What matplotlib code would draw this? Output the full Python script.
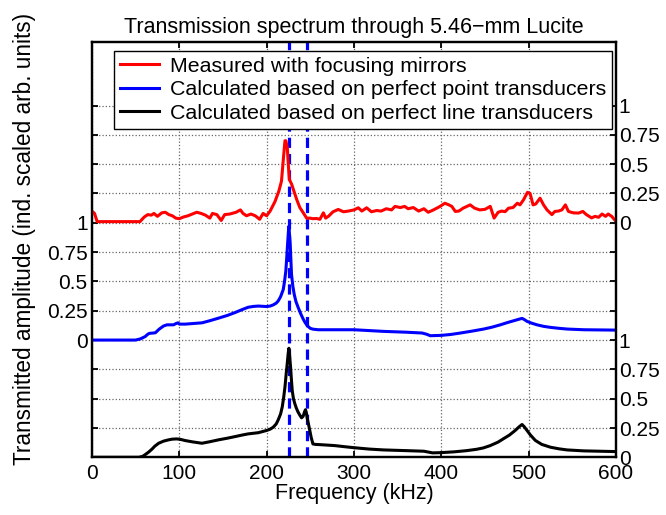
import matplotlib
matplotlib.use('Agg')
import matplotlib.pyplot as plt
import numpy as np

plt.rcParams['font.family'] = ['Liberation Sans', 'DejaVu Sans']

# measured (red), offset 2
red_f = [0, 3, 6, 55, 60, 64, 68, 71, 75, 80, 84, 88, 92, 96, 100, 105, 110, 115, 120,
         125, 130, 135, 138, 143, 148, 152, 158, 165, 170, 173, 177, 182, 187, 192, 196,
         200, 204, 209.5, 214, 217, 219, 221, 222, 223.7, 224.8, 226, 228.6, 231.7, 234.4,
         238, 242, 245.8, 249.6, 253, 257, 261, 265, 267.6, 271, 276, 282, 288, 293.5, 300,
         305, 309, 314.5, 320, 326, 331, 337, 343, 347, 353, 358, 362, 368, 374, 380, 385,
         391, 398.6, 404, 408, 412, 416, 420, 425, 433, 438, 444, 450, 456, 460.4, 465, 469,
         473, 477, 482, 487, 490, 494, 498.6, 501.6, 505, 508, 513, 517, 521, 526.5, 530,
         534, 538, 542, 545.5, 551, 557, 562, 566, 572, 576, 580, 584, 588, 591, 595, 599]
red_v = [0.10, 0.08, 0.01, 0.01, 0.05, 0.07, 0.065, 0.08, 0.055, 0.085, 0.09, 0.07, 0.06,
         0.04, 0.035, 0.05, 0.06, 0.075, 0.09, 0.08, 0.065, 0.04, 0.08, 0.07, 0.02, 0.07,
         0.075, 0.09, 0.11, 0.08, 0.06, 0.075, 0.06, 0.03, 0.08, 0.06,
         0.10, 0.18, 0.27, 0.355, 0.53, 0.70, 0.70, 0.64, 0.50, 0.37, 0.33, 0.26, 0.20,
         0.13, 0.085, 0.04, 0.04, 0.035, 0.037, 0.03, 0.085, 0.04, 0.057, 0.094, 0.114,
         0.094, 0.10, 0.11, 0.128, 0.10, 0.128, 0.094, 0.105, 0.10, 0.12, 0.11, 0.14,
         0.13, 0.14, 0.12, 0.13, 0.10, 0.12, 0.09, 0.11, 0.14, 0.167, 0.155, 0.14, 0.097,
         0.10, 0.125, 0.153, 0.125, 0.11, 0.115, 0.14, 0.04, 0.09, 0.10, 0.095, 0.125,
         0.13, 0.167, 0.153, 0.195, 0.26, 0.25, 0.153, 0.16, 0.21, 0.153, 0.11, 0.07,
         0.097, 0.10, 0.11, 0.153, 0.097, 0.085, 0.083, 0.097, 0.07, 0.042, 0.055, 0.047,
         0.075, 0.055, 0.075, 0.055, 0.02]

# point transducers (blue), offset 1
blue_f = [0, 50, 55.5, 61, 64, 65.8, 70, 72.6, 77, 82, 86, 93.5, 96, 98.5, 100, 107, 126,
          135, 145, 155, 164, 172, 179, 185, 190.5, 200, 204, 207.6, 211, 213.3, 216, 219,
          220.5, 222, 223, 224, 225, 225.5, 226.2, 227, 227.8, 228.5, 230, 231.6, 233.5,
          236, 239, 241.8, 244, 246.8, 250, 253, 259, 300, 334, 360, 378, 383, 387.4, 400,
          411, 421.8, 435, 448.5, 458, 467.5, 476, 483, 489, 492.4, 495, 498, 503, 509.5,
          517, 525, 535, 544, 563, 599]
blue_v = [0, 0, 0.01, 0.03, 0.05, 0.057, 0.06, 0.062, 0.093, 0.12, 0.13, 0.13, 0.14, 0.147,
          0.136, 0.136, 0.147, 0.165, 0.187, 0.21, 0.235, 0.26, 0.28, 0.287, 0.29, 0.286,
          0.29, 0.30, 0.315, 0.334, 0.37, 0.43, 0.50, 0.59, 0.70, 0.82, 0.93, 0.97, 0.90,
          0.82, 0.68, 0.56, 0.46, 0.39, 0.33, 0.28, 0.225, 0.18, 0.15, 0.12, 0.10, 0.093,
          0.088, 0.088, 0.074, 0.067, 0.06, 0.05, 0.037, 0.04, 0.048, 0.06, 0.076, 0.094,
          0.11, 0.13, 0.15, 0.165, 0.178, 0.185, 0.175, 0.16, 0.145, 0.13, 0.117, 0.108,
          0.10, 0.094, 0.088, 0.085]

# line transducers (black), offset 0
black_f = [0, 53.6, 58, 61, 65, 68.8, 72, 76.4, 82, 87.8, 92, 97.3, 102, 106.8, 115, 125.9,
           135, 144.9, 155, 164, 172, 179, 190.5, 200, 204, 207.6, 211, 213.3, 216, 217.9,
           219.5, 221, 222.5, 223.6, 224.6, 225.5, 226.4, 227.4, 228.3, 229.3, 230.7, 232.3,
           234, 236, 238, 240, 241.8, 243.5, 244.5, 245.5, 246.4, 248, 249.4, 251, 253, 256,
           259, 270, 278, 290, 300, 318, 334, 360, 380, 385, 390, 400, 415, 429, 440, 448,
           456, 465, 471, 478, 484.7, 489, 492.4, 495, 498, 502, 507.6, 515, 525, 535, 544,
           563, 599]
black_v = [0, 0, 0.008, 0.023, 0.045, 0.07, 0.095, 0.12, 0.138, 0.149, 0.155, 0.157, 0.152,
           0.143, 0.132, 0.12, 0.133, 0.149, 0.163, 0.177, 0.19, 0.2, 0.21, 0.229, 0.24,
           0.257, 0.285, 0.32, 0.37, 0.43, 0.51, 0.6, 0.72, 0.8, 0.88, 0.93, 0.86, 0.77,
           0.67, 0.57, 0.5, 0.457, 0.42, 0.386, 0.36, 0.337, 0.35, 0.39, 0.406, 0.38, 0.337,
           0.28, 0.229, 0.17, 0.114, 0.11, 0.109, 0.104, 0.1, 0.09, 0.082, 0.07, 0.063,
           0.057, 0.052, 0.045, 0.038, 0.04, 0.047, 0.057, 0.068, 0.08, 0.1, 0.13, 0.158,
           0.19, 0.23, 0.26, 0.28, 0.26, 0.23, 0.19, 0.144, 0.11, 0.086, 0.072, 0.063,
           0.055, 0.049]

dashed_f = [226, 246]

ytick_pos = [0, 0.25, 0.5, 0.75, 1, 1.25, 1.5, 1.75, 2, 2.25, 2.5, 2.75, 3]
left_labels = ['', '', '', '', '0', '0.25', '0.5', '0.75', '1', '', '', '', '']
right_labels = ['0', '0.25', '0.5', '0.75', '1', '', '', '', '0', '0.25', '0.5', '0.75', '1']
xtick_pos = [0, 100, 200, 300, 400, 500, 600]

fig = plt.figure(figsize=(6.66, 5.15), dpi=100)
ax = fig.add_axes([0.138, 0.112, 0.787, 0.806])

for f in dashed_f:
    ax.axvline(f, color='blue', lw=2.3, ls=(0, (3.2, 1.9)), zorder=2)

ax.plot(red_f, np.array(red_v) + 2, color='red', lw=2.2, zorder=3,
        label='Measured with focusing mirrors')
ax.plot(blue_f, np.array(blue_v) + 1, color='blue', lw=2.2, zorder=3,
        label='Calculated based on perfect point transducers')
ax.plot(black_f, black_v, color='black', lw=2.2, zorder=3,
        label='Calculated based on perfect line transducers')

ax.set_xlim(0, 600)
ax.set_ylim(0, 3.54)
ax.set_xticks(xtick_pos)
ax.set_yticks(ytick_pos)
ax.set_yticklabels(left_labels)
ax.grid(True, ls=':', color='0.4', lw=0.9)
ax.tick_params(direction='in', length=4, width=1.3, labelsize=15, top=True, right=True, pad=3)
ax.tick_params(axis='x', pad=5)

ax2 = ax.twinx()
ax2.set_ylim(ax.get_ylim())
ax2.set_yticks(ytick_pos)
ax2.set_yticklabels(right_labels)
ax2.tick_params(direction='in', length=4, width=1.3, labelsize=15, pad=2)

for a in (ax, ax2):
    for s in a.spines.values():
        s.set_linewidth(1.6)

ax.set_xlabel('Frequency (kHz)', fontsize=15.5, labelpad=0)
ax.set_ylabel('Transmitted amplitude (ind. scaled arb. units)', fontsize=16.3)
ax.yaxis.set_label_coords(-0.107, 0.525)
ax.set_title('Transmission spectrum through 5.46\u2212mm Lucite', fontsize=15.5, pad=7)

leg = ax2.legend(*ax.get_legend_handles_labels(), loc='upper right',
                 bbox_to_anchor=(0.992, 0.98), fontsize=15.4, fancybox=False,
                 framealpha=1, edgecolor='black', borderaxespad=0,
                 handlelength=1.8, handletextpad=0.5, labelspacing=0.22,
                 borderpad=0.28)
leg.get_frame().set_linewidth(1.0)

fig.savefig('out.png', dpi=100)
